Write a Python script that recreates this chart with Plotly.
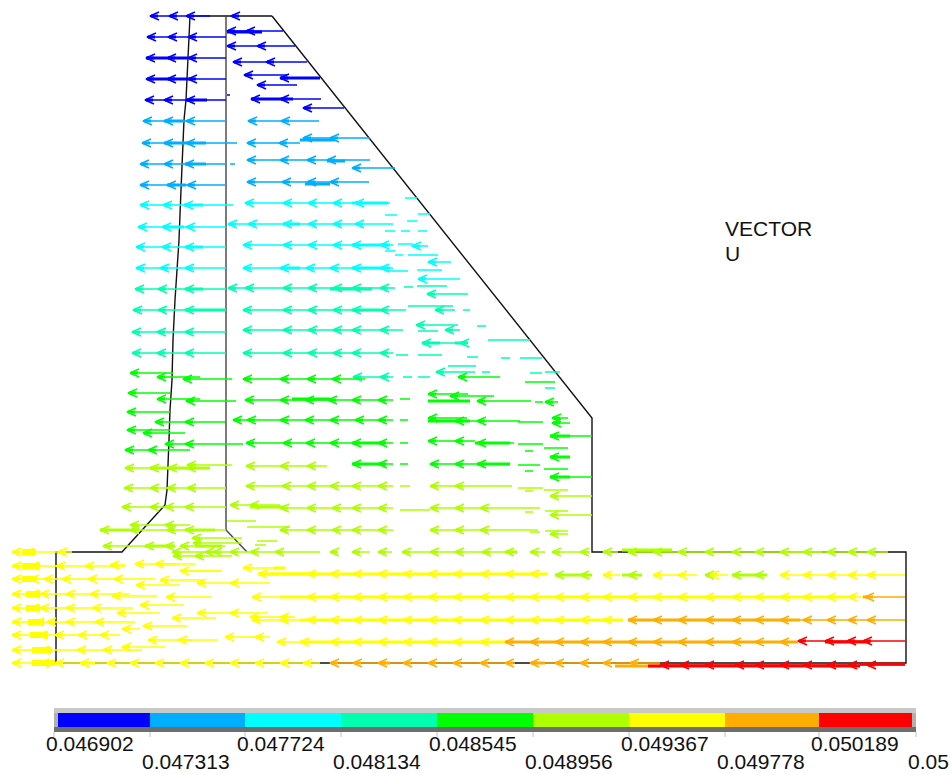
import plotly.graph_objects as go

# ---------- legend ----------
BAND_COLORS = ["#0000ff", "#00aeff", "#00ffff", "#00ffaf", "#00ff00", "#aeff00", "#ffff00", "#ffae00", "#ff0000"]
BAND_EDGES = [58, 150, 245, 341, 437, 533, 629, 725, 819, 912]
TICK_X = [54, 150, 245, 341, 437, 533, 629, 725, 819, 916]
TICK_LABELS = ["0.046902", "0.047313", "0.047724", "0.048134", "0.048545",
               "0.048956", "0.049367", "0.049778", "0.050189", "0.05"]

# ---------- outlines ----------
OUTER_X = [272, 592, 592, 906, 906, 56, 56, 122, 165, 167, 169, 170, 172, 173, 175, 178, 179, 181, 184, 186, 188, 190, 272]
OUTER_Y = [16, 418, 552, 552, 663, 663, 552, 552, 505, 490, 440, 410, 380, 340, 300, 260, 240, 190, 120, 100, 60, 16, 16]
WALL_X = [226, 226, 247]
WALL_Y = [16, 530, 552]

# ---------- vectors: (row, [arrow tips], tail) ----------
BLUE_ARROWS = [
    (16, [150, 169, 186, 231], 210), (37, [147, 168, 188], 226), (31, [227, 246], 283),
    (46, [227, 257], 295), (58, [146, 167, 188], 226), (62, [233, 266], 307),
    (79, [146, 167, 188], 226), (75, [244], 287), (78, [280], 320), (85, [257], 297),
    (100, [145, 164, 186], 226), (99, [251, 280], 321), (108, [303], 344),
]
BLUE_THICK = [(32, 227, 262), (58, 146, 188), (79, 150, 190), (100, 186, 207), (78, 280, 320), (99, 251, 293)]
BLUE_DASH = [(95, 227, 230)]

SKY_ARROWS = [
    (121, [143, 164, 186], 226), (121, [248, 281], 319),
    (143, [142, 164, 186], 237), (143, [247, 279], 300), (138, [303, 330], 370),
    (164, [140, 164, 185], 226), (160, [247, 280, 307, 327], 370), (168, [352], 395),
    (185, [140, 167, 187], 226), (182, [247, 282, 307, 330], 369),
]
SKY_THICK = [(121, 164, 184), (143, 164, 206), (164, 185, 206), (185, 167, 186), (140, 300, 335), (161, 327, 345), (184, 305, 330)]
SKY_DASH = [(164, 230, 235)]

CYAN_ARROWS = [
    (205, [140, 163, 184], 233), (203, [245, 283, 308, 333, 355], 390),
    (227, [138, 162, 186], 226), (224, [228, 248, 283, 308, 333, 355], 393),
    (247, [136, 162, 185], 226), (245, [243, 283, 308, 333, 352, 380], 393),
    (268, [136, 160, 185], 226), (268, [243, 280, 306, 330, 352, 380], 393),
    (246, [412], 428), (262, [428], 451), (279, [418], 460),
]
CYAN_THICK = [(205, 184, 203), (227, 167, 184), (247, 185, 203), (268, 283, 300), (224, 283, 300), (245, 352, 390), (268, 352, 390), (203, 352, 388)]
CYAN_DASH = [(198, 405, 417), (214, 418, 430), (215, 385, 397), (221, 407, 417), (231, 385, 395), (231, 401, 410),
             (231, 418, 427), (244, 398, 413), (251, 385, 395), (255, 395, 403), (255, 408, 438), (271, 388, 408), (270, 417, 442)]

SPRING_ARROWS = [
    (289, [135, 158, 185], 226), (288, [228, 245, 283, 308, 333, 352, 380], 395),
    (310, [133, 158, 185], 226), (310, [243, 283, 308, 333, 352, 380], 395),
    (332, [132, 157, 185], 226), (330, [243, 283, 308, 333, 352, 380], 403),
    (353, [132, 157, 185], 226), (353, [243, 283, 308, 333, 352, 380], 393),
    (294, [427], 468), (310, [435], 455), (325, [416], 458), (330, [445], 460),
    (343, [422, 460], 465), (372, [436], 475), (377, [353, 380], 393),
]
SPRING_THICK = [(310, 185, 226), (289, 185, 203), (343, 422, 440), (343, 455, 466), (289, 330, 372), (310, 352, 380)]
SPRING_DASH = [(287, 404, 413), (286, 417, 447), (306, 408, 453), (310, 395, 406), (310, 463, 470), (326, 477, 486),
               (331, 418, 438), (355, 396, 408), (355, 418, 442), (340, 488, 530), (357, 467, 478), (358, 501, 510),
               (358, 520, 542), (377, 403, 412), (377, 418, 430), (366, 448, 476), (372, 482, 490), (373, 530, 542),
               (372, 545, 560), (388, 545, 555)]

GREEN_ARROWS = [
    (373, [130], 173), (377, [157], 200), (379, [183], 232), (379, [243, 280, 307, 332], 365),
    (393, [128], 170), (399, [157], 200), (401, [186], 236), (400, [245, 280, 305, 328, 352, 378], 393),
    (412, [127], 170), (422, [155, 185], 225), (420, [233, 247, 280, 305, 330, 355, 378], 393),
    (430, [127], 170), (433, [143], 185), (444, [165, 185], 243), (443, [246, 283, 306, 330, 352, 378], 393),
    (450, [125, 148], 190), (377, [458], 500), (394, [428], 468), (396, [450], 494), (401, [477], 531),
    (402, [545], 558), (418, [428], 467), (421, [455, 477], 520), (418, [552], 568), (423, [552], 570),
    (441, [428, 455], 475), (443, [477], 514), (436, [550], 592), (457, [550], 570),
    (464, [430, 455, 477], 510), (477, [550], 592), (464, [352, 378], 393),
]
GREEN_THICK = [(443, 352, 385), (464, 352, 385), (421, 428, 470), (443, 475, 510), (464, 477, 510), (399, 292, 330), (401, 428, 470), (436, 550, 570), (477, 550, 570), (457, 550, 570)]
GREEN_DASH = [(382, 525, 555), (402, 535, 543), (420, 400, 408), (422, 518, 543), (443, 400, 408), (444, 518, 543),
              (451, 525, 533), (448, 544, 568), (464, 400, 408), (465, 518, 540), (471, 525, 533), (469, 544, 568), (399, 400, 410)]

LIME_ARROWS = [
    (468, [125, 150, 168, 187], 208), (465, [187], 232), (466, [246, 280, 307], 327),
    (488, [124, 150, 167, 187], 226), (486, [246, 282, 307, 330, 352, 378], 393),
    (507, [122, 150, 165, 185], 226), (505, [230, 250], 280), (508, [280, 307, 332, 352, 378], 393),
    (530, [100, 130, 167, 185], 226), (525, [130, 165], 190), (530, [280, 307, 332, 352, 378], 393),
    (486, [430, 455], 512), (496, [550], 592), (508, [430, 455, 480], 540), (515, [550], 592),
    (530, [430, 455, 480], 538), (534, [550], 568),
    (546, [103, 145, 165], 175), (546, [180], 225), (543, [193], 242), (538, [192], 242), (556, [173, 195], 232),
    (552, [172, 205, 213, 230], 250), (552, [250, 275], 320), (552, [330], 335), (552, [352], 370), (552, [378], 392),
    (552, [402, 430, 455, 482, 505], 517), (552, [530], 545), (552, [552, 580], 590), (552, [603], 618),
    (552, [628, 653, 678, 705, 732, 755], 822), (552, [780, 803, 827, 848, 867], 888),
    (575, [555, 580], 592), (575, [628], 642), (575, [705], 710), (575, [732, 755], 767),
]
LIME_THICK = [(468, 150, 210), (546, 145, 175), (530, 100, 130), (530, 185, 215), (550, 622, 672), (575, 555, 592), (575, 622, 642), (575, 732, 767),
              (552, 505, 517), (507, 250, 285), (546, 195, 222)]
LIME_DASH = [(521, 227, 256), (527, 247, 290), (541, 257, 277), (545, 255, 266), (488, 518, 543), (491, 525, 533),
             (490, 544, 568), (510, 400, 430), (511, 545, 568), (512, 525, 533), (531, 545, 568), (532, 530, 540), (486, 400, 410)]

YELLOW_ARROWS = [
    (552, [12, 25, 58], 72), (566, [12, 30, 56, 85], 125), (565, [110], 125), (564, [135], 176), (564, [155], 195),
    (571, [180], 222), (579, [12, 30, 44, 62, 88, 114], 155), (580, [160], 203), (585, [136], 180),
    (583, [197, 230], 270), (568, [243], 285),
    (594, [12, 30, 40, 66, 90], 130), (596, [112], 157), (597, [166], 212),
    (608, [12, 30, 40, 66, 92], 133), (613, [117], 160), (605, [140], 184), (618, [172], 216),
    (613, [197, 230], 268), (617, [250, 280], 295),
    (622, [12, 35, 47, 66, 95], 135), (626, [143], 187), (629, [122], 140),
    (635, [12, 38, 55, 78, 100], 120), (640, [148], 192), (640, [178], 218), (637, [225, 255], 270),
    (650, [12, 40, 77, 103], 142), (647, [122], 165),
    (663, [12, 40, 55, 80, 107, 130, 155, 180, 205, 230, 255, 280, 303], 320),
    (574, [258, 307, 330, 353, 378, 403, 428, 453, 480, 505, 530], 548), (575, [603], 620), (575, [653, 678], 697),
    (575, [710], 728), (575, [780, 803, 827, 848, 867], 905),
    (597, [252, 307, 330, 353, 378, 403, 428, 453, 480, 505, 530, 555, 580, 603, 628, 653, 678, 705, 732, 755, 780, 803, 827, 848], 865),
    (620, [252, 280, 307, 330, 353, 378, 403, 428, 453, 480, 505, 530, 555, 580, 603], 623),
    (642, [277, 300, 330, 353, 378, 403, 428, 453, 480], 505),
]
YELLOW_THICK = [(574, 258, 548), (597, 280, 848), (620, 300, 623), (642, 300, 505), (568, 273, 285), (574, 270, 320), (663, 80, 95)]
YELLOW_DASH = [(571, 180, 222)]
YELLOW_BLOBS = [(552, 22, 36), (566, 22, 40), (579, 22, 36), (594, 26, 40), (608, 26, 40), (622, 28, 44), (635, 30, 48), (650, 32, 52), (663, 32, 55)]

ORANGE_ARROWS = [
    (663, [330, 353, 378, 403, 428, 453, 480, 505], 515), (663, [530, 555, 580, 603, 630], 660),
    (597, [865], 905), (620, [628, 653, 678, 705, 732, 755, 780, 803, 827, 848, 867], 905),
    (642, [505, 530, 555, 580, 603, 628, 653, 678, 705, 732, 755, 780], 798),
]
ORANGE_THICK = [(666, 615, 660), (620, 628, 800), (642, 505, 798), (663, 380, 390), (663, 535, 545), (597, 863, 870)]
ORANGE_DASH = []

RED_ARROWS = [
    (641, [798, 825, 847, 863], 905), (665, [660, 680, 705, 735, 755, 780, 803, 827, 848, 867], 905),
]
RED_THICK = [(666, 648, 740), (666, 740, 860), (642, 825, 870), (664, 860, 905)]
RED_DASH = []

SERIES = [
    (BAND_COLORS[0], BLUE_ARROWS, BLUE_THICK, BLUE_DASH),
    (BAND_COLORS[1], SKY_ARROWS, SKY_THICK, SKY_DASH),
    (BAND_COLORS[2], CYAN_ARROWS, CYAN_THICK, CYAN_DASH),
    (BAND_COLORS[3], SPRING_ARROWS, SPRING_THICK, SPRING_DASH),
    (BAND_COLORS[4], GREEN_ARROWS, GREEN_THICK, GREEN_DASH),
    (BAND_COLORS[5], LIME_ARROWS, LIME_THICK, LIME_DASH),
    (BAND_COLORS[6], YELLOW_ARROWS, YELLOW_THICK, YELLOW_DASH),
    (BAND_COLORS[7], ORANGE_ARROWS, ORANGE_THICK, ORANGE_DASH),
    (BAND_COLORS[8], RED_ARROWS, RED_THICK, RED_DASH),
]

HEAD_LEN, HEAD_HALF, STEM = 9, 4, 8
fig = go.Figure()


def line(xs, ys, color, width):
    fig.add_trace(go.Scatter(x=xs, y=ys, mode="lines", hoverinfo="skip", showlegend=False,
                             line=dict(color=color, width=width)))


line(OUTER_X, OUTER_Y, "#111111", 1.4)
line(WALL_X, WALL_Y, "#444444", 1.4)

for color, arrows, thick, dashes in SERIES:
    tx, ty, bx, by = [], [], [], []
    for y, tips, tail in arrows:
        tx += [min(tips), tail, None]
        ty += [y, y, None]
        for t in tips:
            tx += [t + HEAD_LEN, t, t + HEAD_LEN, None]
            ty += [y - HEAD_HALF, y, y + HEAD_HALF, None]
            bx += [t + 1, t + STEM, None]
            by += [y, y, None]
    for y, a, b in dashes:
        tx += [a, b, None]
        ty += [y, y, None]
    for y, a, b in thick:
        bx += [a, b, None]
        by += [y, y, None]
    line(tx, ty, color, 1.5)
    line(bx, by, color, 3)

line([v for y, a, b in YELLOW_BLOBS for v in (a, b, None)],
     [v for y, a, b in YELLOW_BLOBS for v in (y, y, None)], BAND_COLORS[6], 6)

# legend bar
fig.add_shape(type="rect", x0=54, x1=916, y0=708, y1=713, fillcolor="#c8c8c8", line_width=0, layer="below")
fig.add_shape(type="rect", x0=54, x1=916, y0=713, y1=727, fillcolor="#b0b0b0", line_width=0, layer="below")
fig.add_shape(type="rect", x0=54, x1=916, y0=727, y1=732, fillcolor="#6e6e6e", line_width=0, layer="below")
for i, c in enumerate(BAND_COLORS):
    fig.add_trace(go.Bar(x=[BAND_EDGES[i + 1] - BAND_EDGES[i]], base=[BAND_EDGES[i]], y=[720], width=[14],
                         orientation="h", marker=dict(color=c, line_width=0), hoverinfo="skip", showlegend=False))
for i, (tx_, lab) in enumerate(zip(TICK_X, TICK_LABELS)):
    fig.add_shape(type="line", x0=tx_, x1=tx_, y0=732, y1=737, line=dict(color="#c0c0c0", width=1))
    fig.add_annotation(x=tx_ - 10, y=743 if i % 2 == 0 else 761, text=lab, showarrow=False, xanchor="left",
                       yanchor="middle", font=dict(family="Liberation Sans, Arial", size=21, color="#111111"))

for label, y in (("VECTOR", 228), ("U", 253)):
    fig.add_annotation(x=723, y=y, text=label, showarrow=False, xanchor="left", yanchor="middle",
                       font=dict(family="Liberation Sans, Arial", size=21, color="#111111"))

fig.update_layout(width=952, height=775, margin=dict(l=0, r=0, t=0, b=0), autosize=False,
                  paper_bgcolor="white", plot_bgcolor="white", barmode="overlay", showlegend=False,
                  xaxis=dict(range=[0, 952], visible=False, fixedrange=True),
                  yaxis=dict(range=[775, 0], visible=False, fixedrange=True))
fig.write_html("out.html", config=dict(displayModeBar=False),
               post_script="document.body.style.margin='0';document.body.style.overflow='hidden';")
